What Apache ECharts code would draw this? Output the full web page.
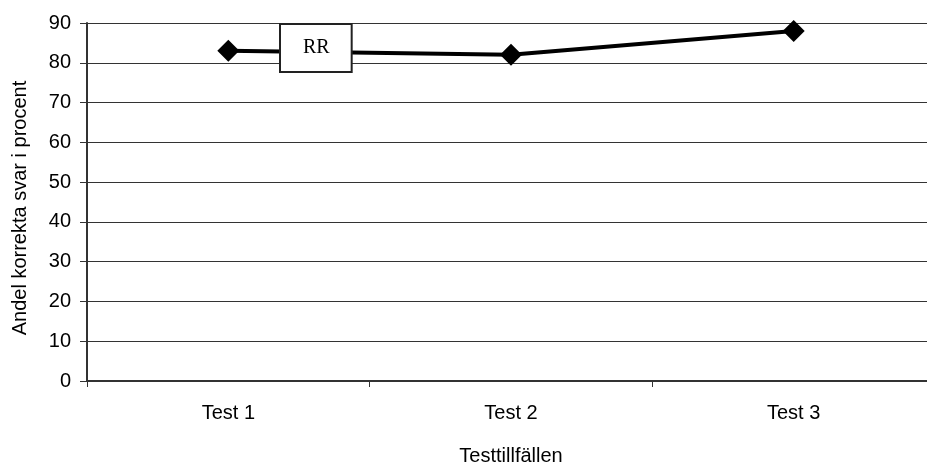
<!DOCTYPE html>
<html>
<head>
<meta charset="utf-8">
<script src="https://cdn.jsdelivr.net/npm/echarts@6/dist/echarts.min.js"></script>
<style>
html,body{margin:0;padding:0;background:#fff;overflow:hidden;}
#chart{width:935px;height:464px;}
</style>
</head>
<body>
<div id="chart"></div>
<script>
// Test occasions and share of correct answers (percent)
const categories = ['Test 1', 'Test 2', 'Test 3'];
const rrValues = [83, 82, 88];
const yTicks = [0, 10, 20, 30, 40, 50, 60, 70, 80, 90];

const chart = echarts.init(document.getElementById('chart'));
const font = '"Liberation Sans", Arial, sans-serif';

chart.setOption({
  animation: false,
  backgroundColor: '#ffffff',
  grid: { left: 87, right: 0, top: 23, bottom: 83, containLabel: false, outerBoundsMode: 'none' },
  legend: {
    show: true,
    left: 280,
    top: 24,
    icon: 'none',
    itemWidth: 0,
    itemGap: 0,
    padding: [14, 22, 14, 23],
    backgroundColor: '#ffffff',
    borderColor: '#222222',
    borderWidth: 2,
    borderRadius: 0,
    textStyle: { fontFamily: '"Liberation Serif", "Times New Roman", serif', fontSize: 20, color: '#000', padding: [0, 0, 0, -5] },
    data: [{ name: 'RR', icon: 'none' }]
  },
  xAxis: {
    type: 'category',
    data: categories,
    boundaryGap: true,
    name: 'Testtillfällen',
    nameLocation: 'middle',
    nameGap: 65,
    nameTextStyle: { fontFamily: font, fontSize: 20, color: '#000' },
    axisLine: { lineStyle: { color: '#333', width: 2 } },
    axisTick: { show: true, length: 6, lineStyle: { color: '#333', width: 1 } },
    axisLabel: { fontFamily: font, fontSize: 20, color: '#000', margin: 22 },
    splitLine: { show: false }
  },
  yAxis: {
    type: 'value',
    min: 0,
    max: 90,
    interval: 10,
    name: 'Andel korrekta svar i procent',
    nameLocation: 'middle',
    nameGap: 57,
    nameTextStyle: { fontFamily: font, fontSize: 20, color: '#000', padding: [0, 12, 0, 0] },
    axisLine: { show: true, lineStyle: { color: '#333', width: 2 } },
    axisTick: { show: true, length: 7, inside: false, lineStyle: { color: '#333', width: 1 } },
    axisLabel: {
      fontFamily: font, fontSize: 20, color: '#000', margin: 16,
      formatter: v => (yTicks.indexOf(v) >= 0 ? String(v) : '')
    },
    splitLine: { show: true, lineStyle: { color: '#333', width: 1 } }
  },
  series: [{
    name: 'RR',
    type: 'line',
    data: rrValues,
    symbol: 'diamond',
    symbolSize: [22, 22],
    lineStyle: { color: '#000', width: 4 },
    itemStyle: { color: '#000' },
    z: 1
  }]
});
</script>
</body>
</html>
